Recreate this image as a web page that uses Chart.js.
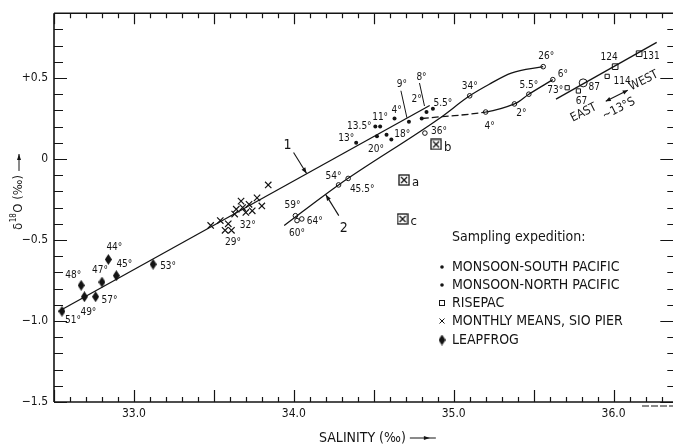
<!DOCTYPE html>
<html>
<head>
<meta charset="utf-8">
<script src="https://cdn.jsdelivr.net/npm/chart.js@4/dist/chart.umd.min.js"></script>
<style>
  html, body { margin: 0; padding: 0; background: #fff; overflow: hidden; width: 673px; height: 448px; }
  #wrap { position: relative; width: 680px; height: 448px; }
</style>
</head>
<body>
<div id="wrap"><canvas id="c" width="680" height="448"></canvas></div>
<script>
const FONT = '"DejaVu Sans Condensed","Liberation Sans Narrow","DejaVu Sans",sans-serif';
const INK = '#141414';

// ---- axis ticks ----
const salinityTicks = [33.0, 34.0, 35.0, 36.0];
const salinityTickLabels = ['33.0', '34.0', '35.0', '36.0'];
const deltaTicks = [-1.5, -1.0, -0.5, 0, 0.5];
const deltaTickLabels = ['\u22121.5', '\u22121.0', '\u22120.5', '0', '+0.5'];

// ---- LEAPFROG ----
const leapfrogSalinity = [32.55, 32.69, 32.67, 32.76, 32.80, 32.84, 32.89, 33.12];
const leapfrogDelta    = [-0.94, -0.85, -0.78, -0.85, -0.76, -0.62, -0.72, -0.65];
const leapfrogTemps    = ['51°', '49°', '48°', '57°', '47°', '44°', '45°', '53°'];
const leapfrogTempPos  = [[11, 9], [4, 16], [-8, -10], [14, 4], [-2, -12], [6, -12], [8, -11], [15, 2]];

// ---- monthly means, SIO pier ----
const pierSalinity = [33.48, 33.54, 33.59, 33.57, 33.61, 33.63, 33.64, 33.67, 33.68, 33.70, 33.72, 33.74, 33.77, 33.80, 33.84];
const pierDelta    = [-0.41, -0.38, -0.40, -0.44, -0.44, -0.34, -0.31, -0.26, -0.30, -0.33, -0.28, -0.32, -0.24, -0.29, -0.16];
const pierTemps    = ['', '', '', '29°', '', '', '', '', '', '32°', '', '', '', '', ''];
const pierTempPos  = [null, null, null, [8, 12], null, null, null, null, null, [2, 13], null, null, null, null, null];

// ---- MONSOON, South Pacific ----
const southSalinity = [34.01, 34.02, 34.05, 34.28, 34.34, 34.82, 35.10, 35.56, 35.20, 35.38, 35.47, 35.62];
const southDelta    = [-0.35, -0.38, -0.37, -0.16, -0.12, 0.16, 0.39, 0.57, 0.29, 0.34, 0.40, 0.49];
const southTemps    = ['59°', '60°', '64°', '54°', '45.5°', '36°', '34°', '26°', '4°', '2°', '5.5°', '6°'];
const southTempPos  = [[-3, -10], [0, 13], [13, 2], [-5, -9], [14, 11], [14, -2], [0, -9], [3, -10], [4, 14], [7, 9], [0, -9], [10, -5]];

// ---- MONSOON, North Pacific ----
const northSalinity = [34.39, 34.51, 34.54, 34.52, 34.58, 34.61, 34.63, 34.72, 34.80, 34.83, 34.87];
const northDelta    = [0.10, 0.20, 0.20, 0.14, 0.15, 0.12, 0.25, 0.23, 0.25, 0.29, 0.31];
const northTemps    = ['13°', '13.5°', '11°', '20°', '', '18°', '4°', '9°', '2°', '8°', '5.5°'];
const northTempPos  = [[-10, -4], [-16, 0], [0, -9], [-1, 13], null, [11, -5], [2, -8], [-7, -37], [-5, -19], [-5, -35], [10, -5]];
const northLeaders  = [null, null, null, null, null, null, null, [-2, -4, -8, -31], null, [-2, -6, -7, -29], null];

// ---- RISEPAC ----
const risepacSalinity = [35.71, 35.78, 35.81, 35.96, 36.01, 36.16];
const risepacDelta    = [0.44, 0.42, 0.47, 0.51, 0.57, 0.65];
const risepacStations = ['73°', '67', '87', '114', '124', '131'];
const risepacStationPos = [[-12, 3], [3, 10], [11, 5], [15, 5], [-6, -9], [12, 3]];

// ---- special samples a, b, c ----
const sampleSalinity = [34.69, 34.89, 34.68];
const sampleDelta    = [-0.13, 0.09, -0.37];
const sampleNames    = ['a', 'b', 'c'];

// ---- fitted relations ----
const line1Salinity = [32.53, 34.85];
const line1Delta    = [-0.94, 0.33];
const line2Salinity = [33.94, 34.28, 34.91, 35.10, 35.22, 35.36, 35.56];
const line2Delta    = [-0.41, -0.16, 0.25, 0.39, 0.46, 0.53, 0.57];
const curveSalinity = [34.80, 35.20, 35.38, 35.47, 35.62];
const curveDelta    = [0.25, 0.29, 0.34, 0.40, 0.49];
const risepacLineSalinity = [35.64, 36.27];
const risepacLineDelta    = [0.37, 0.72];

// line tags "1" and "2": arrow tip on the line
const tagSalinity = [34.08, 34.20];
const tagDelta    = [-0.09, -0.22];
const tagText     = ['1', '2'];

// east-west arrow centre near 13°S
const ewSalinity = 36.02;
const ewDelta = 0.39;

const legendItems = ['MONSOON-SOUTH PACIFIC', 'MONSOON-NORTH PACIFIC', 'RISEPAC', 'MONTHLY MEANS, SIO PIER', 'LEAPFROG'];

const pts = (xs, ys) => xs.map((x, i) => ({ x, y: ys[i] }));

function diamondImage(w, h) {
  const c = document.createElement('canvas');
  c.width = w; c.height = h;
  const g = c.getContext('2d');
  g.beginPath();
  g.moveTo(w / 2, 0); g.lineTo(w, h / 2); g.lineTo(w / 2, h); g.lineTo(0, h / 2);
  g.closePath();
  g.fillStyle = INK; g.fill();
  return c;
}
function boxXImage(s) {
  const c = document.createElement('canvas');
  c.width = s; c.height = s;
  const g = c.getContext('2d');
  g.strokeStyle = INK; g.lineWidth = 1.3;
  g.strokeRect(1, 1, s - 2, s - 2);
  g.beginPath();
  g.moveTo(3, 3); g.lineTo(s - 3, s - 3);
  g.moveTo(s - 3, 3); g.lineTo(3, s - 3);
  g.stroke();
  return c;
}
const diamond = diamondImage(7, 11);
const boxX = boxXImage(12);

// frame with inward ticks on all four sides
const framePlugin = {
  id: 'frame',
  beforeDatasetsDraw(chart) {
    const { ctx, chartArea: a, scales: { x, y } } = chart;
    ctx.save();
    ctx.strokeStyle = INK;
    ctx.lineWidth = 1.6;
    ctx.beginPath();
    ctx.moveTo(a.left, a.top); ctx.lineTo(680, a.top);
    ctx.moveTo(a.left, a.top); ctx.lineTo(a.left, a.bottom);
    ctx.moveTo(a.left, a.bottom); ctx.lineTo(680, a.bottom);
    ctx.moveTo(a.right, a.top); ctx.lineTo(a.right, a.bottom);
    ctx.stroke();
    ctx.lineWidth = 1.2;
    ctx.beginPath();
    for (let k = 325; k <= 363; k++) {
      const v = k / 10;
      const px = Math.round(x.getPixelForValue(v)) + 0.5;
      const major = k % 5 === 0;
      ctx.moveTo(px, a.bottom); ctx.lineTo(px, a.bottom - (major ? 12 : 5));
      ctx.moveTo(px, a.top); ctx.lineTo(px, a.top + (major ? 11 : 5));
    }
    for (let k = -15; k <= 9; k++) {
      const v = k / 10;
      const py = Math.round(y.getPixelForValue(v)) + 0.5;
      const major = k % 5 === 0;
      ctx.moveTo(a.left, py); ctx.lineTo(a.left + (major ? 13 : 9), py);
      ctx.moveTo(a.right, py); ctx.lineTo(a.right - (major ? 14 : 7), py);
    }
    ctx.stroke();
    // short broken stroke under the right end of the salinity axis
    ctx.lineWidth = 1;
    ctx.setLineDash([7, 2]);
    ctx.beginPath();
    ctx.moveTo(642, a.bottom + 4); ctx.lineTo(673, a.bottom + 4);
    ctx.stroke();
    ctx.restore();
  }
};

function arrowHead(ctx, x0, y0, x1, y1, len, wid) {
  const ang = Math.atan2(y1 - y0, x1 - x0);
  ctx.beginPath();
  ctx.moveTo(x1, y1);
  ctx.lineTo(x1 - len * Math.cos(ang) + wid * Math.sin(ang), y1 - len * Math.sin(ang) - wid * Math.cos(ang));
  ctx.lineTo(x1 - len * Math.cos(ang) - wid * Math.sin(ang), y1 - len * Math.sin(ang) + wid * Math.cos(ang));
  ctx.closePath();
  ctx.fill();
}

// point labels, leaders, tags, legend and axis titles
const notesPlugin = {
  id: 'notes',
  afterDatasetsDraw(chart) {
    const { ctx, scales: { x, y } } = chart;
    ctx.save();
    ctx.fillStyle = INK;
    ctx.strokeStyle = INK;
    ctx.textAlign = 'center';
    ctx.textBaseline = 'middle';

    // temperatures / station numbers beside the points
    ctx.font = '10px ' + FONT;
    chart.data.datasets.forEach((ds, di) => {
      if (!ds.pointNotes) return;
      const meta = chart.getDatasetMeta(di);
      ds.pointNotes.forEach((txt, i) => {
        const el = meta.data[i];
        const off = ds.pointNoteOffsets[i];
        if (ds.pointLeaders && ds.pointLeaders[i]) {
          const l = ds.pointLeaders[i];
          ctx.lineWidth = 1;
          ctx.beginPath();
          ctx.moveTo(el.x + l[0], el.y + l[1]);
          ctx.lineTo(el.x + l[2], el.y + l[3]);
          ctx.stroke();
        }
        if (!txt || !off) return;
        ctx.fillText(txt, el.x + off[0], el.y + off[1]);
      });
    });

    // a, b, c
    ctx.font = '13px ' + FONT;
    ctx.textAlign = 'left';
    sampleNames.forEach((n, i) => {
      const px = x.getPixelForValue(sampleSalinity[i]);
      const py = y.getPixelForValue(sampleDelta[i]);
      ctx.fillText(n, px + 8, py + 3);
    });

    // line tags with arrows
    ctx.textAlign = 'center';
    ctx.font = '14px ' + FONT;
    ctx.lineWidth = 1.1;
    const tagTail = [[-13, -21], [13, 21]];
    const tagLabel = [[-19, -28], [18, 34]];
    tagText.forEach((t, i) => {
      const px = x.getPixelForValue(tagSalinity[i]);
      const py = y.getPixelForValue(tagDelta[i]);
      ctx.beginPath();
      ctx.moveTo(px + tagTail[i][0], py + tagTail[i][1]);
      ctx.lineTo(px, py);
      ctx.stroke();
      arrowHead(ctx, px + tagTail[i][0], py + tagTail[i][1], px, py, 6, 2.2);
      ctx.fillText(t, px + tagLabel[i][0], py + tagLabel[i][1]);
    });

    // east-west arrow
    const cx = x.getPixelForValue(ewSalinity);
    const cy = y.getPixelForValue(ewDelta);
    ctx.lineWidth = 1.1;
    ctx.beginPath();
    ctx.moveTo(cx - 11, cy + 5.5); ctx.lineTo(cx + 11, cy - 5.5);
    ctx.stroke();
    arrowHead(ctx, cx, cy, cx - 11, cy + 5.5, 5, 2.2);
    arrowHead(ctx, cx, cy, cx + 11, cy - 5.5, 5, 2.2);
    ctx.font = '12px ' + FONT;
    [['EAST', -33, 17], ['WEST', 27, -15], ['~13°S', 2, 13]].forEach(([t, dx, dy]) => {
      ctx.save();
      ctx.translate(cx + dx, cy + dy);
      ctx.rotate(-0.47);
      ctx.fillText(t, 0, 0);
      ctx.restore();
    });

    // legend
    ctx.textAlign = 'left';
    ctx.font = '14px ' + FONT;
    ctx.fillText('Sampling expedition:', 452, 237);
    const rows = [267, 285, 303, 321, 340];
    legendItems.forEach((t, i) => {
      const ry = rows[i];
      ctx.fillText(t, 452, ry);
      ctx.lineWidth = 1;
      if (i < 2) {
        ctx.beginPath(); ctx.arc(442, ry, 1.8, 0, Math.PI * 2); ctx.fill();
      } else if (i === 2) {
        ctx.strokeRect(439.5, ry - 2.5, 5, 5);
      } else if (i === 3) {
        ctx.beginPath();
        ctx.moveTo(439.5, ry - 2.5); ctx.lineTo(444.5, ry + 2.5);
        ctx.moveTo(444.5, ry - 2.5); ctx.lineTo(439.5, ry + 2.5);
        ctx.stroke();
      } else {
        ctx.drawImage(diamond, 442 - 3.5, ry - 5.5);
      }
    });

    // salinity title
    ctx.font = '14px ' + FONT;
    ctx.textAlign = 'left';
    const xt = 'SALINITY (‰)';
    const xtw = ctx.measureText(xt).width;
    const xtx = 319, xty = 438;
    ctx.fillText(xt, xtx, xty);
    ctx.lineWidth = 1;
    ctx.beginPath();
    ctx.moveTo(xtx + xtw + 4, xty); ctx.lineTo(xtx + xtw + 30, xty);
    ctx.stroke();
    arrowHead(ctx, xtx + xtw + 4, xty, xtx + xtw + 24, xty, 6, 2);

    // delta-18O title, rotated
    ctx.save();
    ctx.translate(19, 192);
    ctx.rotate(-Math.PI / 2);
    let cur = -38;
    ctx.font = '13px ' + FONT;
    ctx.fillText('\u03b4', cur, 0); cur += ctx.measureText('\u03b4').width + 0.5;
    ctx.font = '8px ' + FONT;
    ctx.fillText('18', cur, -5); cur += ctx.measureText('18').width + 0.5;
    ctx.font = '13px ' + FONT;
    ctx.fillText('O (‰)', cur, 0); cur += ctx.measureText('O (‰)').width + 4;
    ctx.beginPath();
    ctx.moveTo(cur, 0); ctx.lineTo(38, 0);
    ctx.stroke();
    arrowHead(ctx, cur, 0, 38, 0, 6, 2);
    ctx.restore();

    ctx.restore();
  }
};

const lineStyle = { type: 'line', showLine: true, pointRadius: 0, borderColor: INK, borderWidth: 1.3, fill: false };

new Chart(document.getElementById('c'), {
  type: 'scatter',
  data: {
    datasets: [
      Object.assign({ label: 'line 1', data: pts(line1Salinity, line1Delta) }, lineStyle),
      Object.assign({ label: 'line 2', data: pts(line2Salinity, line2Delta), cubicInterpolationMode: 'monotone' }, lineStyle),
      Object.assign({ label: 'upper-layer curve', data: pts(curveSalinity, curveDelta), tension: 0.35,
        segment: { borderDash: c => c.p0DataIndex === 0 ? [7, 3] : undefined } }, lineStyle),
      Object.assign({ label: 'RISEPAC line', data: pts(risepacLineSalinity, risepacLineDelta) }, lineStyle),
      {
        label: 'MONSOON-SOUTH PACIFIC', data: pts(southSalinity, southDelta),
        pointStyle: 'circle', pointRadius: 2.3, borderWidth: 1, borderColor: INK, backgroundColor: '#fff',
        pointNotes: southTemps, pointNoteOffsets: southTempPos
      },
      {
        label: 'MONSOON-NORTH PACIFIC', data: pts(northSalinity, northDelta),
        pointStyle: 'circle', pointRadius: 2, borderWidth: 0, backgroundColor: INK,
        pointNotes: northTemps, pointNoteOffsets: northTempPos, pointLeaders: northLeaders
      },
      {
        label: 'RISEPAC', data: pts(risepacSalinity, risepacDelta),
        pointStyle: ['rect', 'rect', 'circle', 'rect', 'rect', 'rect'],
        pointRadius: [3, 3, 4, 3, 4, 4], borderWidth: 1, borderColor: INK, backgroundColor: '#fff',
        pointNotes: risepacStations, pointNoteOffsets: risepacStationPos
      },
      {
        label: 'MONTHLY MEANS, SIO PIER', data: pts(pierSalinity, pierDelta),
        pointStyle: 'crossRot', pointRadius: 4.5, borderWidth: 1.2, borderColor: INK,
        pointNotes: pierTemps, pointNoteOffsets: pierTempPos
      },
      {
        label: 'LEAPFROG', data: pts(leapfrogSalinity, leapfrogDelta),
        pointStyle: diamond, pointNotes: leapfrogTemps, pointNoteOffsets: leapfrogTempPos
      },
      {
        label: 'samples', data: pts(sampleSalinity, sampleDelta), pointStyle: boxX
      }
    ]
  },
  options: {
    responsive: false,
    animation: false,
    events: [],
    layout: { padding: { top: 5, right: 4, left: 0, bottom: 0 } },
    plugins: { legend: { display: false }, tooltip: { enabled: false } },
    scales: {
      x: {
        type: 'linear', min: 32.5, max: 36.38,
        grid: { display: false, drawTicks: false }, border: { display: false },
        afterBuildTicks: s => { s.ticks = salinityTicks.map(v => ({ value: v })); },
        afterFit: s => { s.height = 46; },
        ticks: {
          autoSkip: false, maxRotation: 0, padding: 5, color: INK,
          font: { family: FONT, size: 12 },
          callback: v => { const i = salinityTicks.findIndex(t => Math.abs(t - v) < 1e-6); return i >= 0 ? salinityTickLabels[i] : ''; }
        }
      },
      y: {
        type: 'linear', min: -1.5, max: 0.9,
        grid: { display: false, drawTicks: false }, border: { display: false },
        afterBuildTicks: s => { s.ticks = deltaTicks.map(v => ({ value: v })); },
        afterFit: s => { s.width = 54; },
        ticks: {
          autoSkip: false, padding: 6, color: INK,
          font: { family: FONT, size: 12 },
          callback: v => { const i = deltaTicks.findIndex(t => Math.abs(t - v) < 1e-6); return i >= 0 ? deltaTickLabels[i] : ''; }
        }
      }
    }
  },
  plugins: [framePlugin, notesPlugin]
});
</script>
</body>
</html>
